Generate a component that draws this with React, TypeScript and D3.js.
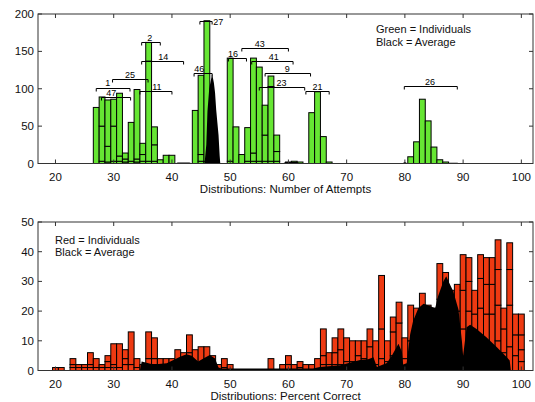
import React from "react";
import * as d3 from "d3";

// shared x ticks (both panels)
const xTicks = [20, 30, 40, 50, 60, 70, 80, 90, 100];
const attemptTicks = [0, 50, 100, 150, 200];
const percentTicks = [0, 10, 20, 30, 40, 50];

// top panel: number of attempts, stacked individuals per bin
const attemptBins = [27, 28, 29, 30, 31, 32, 33, 34, 35, 36, 37, 38, 39, 40, 44, 45, 46, 50, 51, 52, 53, 54, 55, 56, 57, 58, 60, 61, 62, 64, 65, 66, 67, 81, 82, 83, 84, 85, 86, 87];
const attemptStacks = [
  [75], [3, 47, 39], [2, 21, 62], [3, 47, 36], [3, 7, 84], [2, 4, 8], [3, 52], [2, 4, 93], [3, 9, 15], [3, 134, 25],
  [3, 22, 24], [5], [11], [11], [71], [3, 9, 106], [3, 188], [3, 138], [49], [12], [3, 45], [3, 11, 127], [3, 126],
  [3, 35, 40], [3, 100, 14], [3, 13, 22], [2], [3], [2], [68], [96], [36], [2], [9], [29], [86], [57], [22], [5], [2],
];
// black average curve (top)
const attemptAvgX = [40.5, 41, 43, 43.5, 45.6, 45.9, 46.1, 46.4, 46.7, 46.9, 47.2, 47.4, 47.6, 47.8, 48.0, 48.2, 48.3, 59, 59.5, 61.5, 62, 79.5, 80, 80.5, 87, 87.5, 89, 89.5];
const attemptAvgY = [0, 1.5, 1.5, 0, 0, 25, 70, 100, 112, 120, 108, 95, 72, 55, 38, 10, 0, 0, 2, 2, 0, 0, 2, 0, 0, 1, 1, 0];

// brackets over the top panel
const bracketLabels = ["2", "14", "25", "1", "11", "47", "27", "46", "16", "43", "41", "9", "23", "21", "26"];
const bracketFrom = [34.8, 34.8, 29.8, 27, 34.5, 27.9, 44.8, 43.8, 49.7, 52, 53.7, 56, 55, 63, 79.9];
const bracketTo = [38, 42, 35.9, 32.8, 40, 32.9, 46.9, 46.9, 52.8, 60, 60.8, 63.8, 62.8, 67, 89];
const bracketLevel = [162, 137, 113, 101.4, 97, 88.6, 191, 120.7, 141.5, 154, 137, 120.7, 102, 97.4, 103.7];
const bracketTextX = [36.2, 38.5, 32.8, 29.0, 37.4, 29.6, 47.1, 44.7, 50.5, 55.1, 57.5, 59.8, 58.8, 65, 84.3];

// bottom panel: percent correct
const percentBins = [20, 21, 23, 24, 25, 26, 27, 28, 29, 30, 31, 32, 33, 34, 35, 36, 37, 38, 39, 40, 41, 42, 43, 44, 45, 46, 47, 48, 49, 50,
  57, 59, 60, 61, 62, 63, 64, 65, 66, 67, 68, 69, 70, 71, 72, 73, 74, 75, 76, 77, 78, 79, 80, 81, 82, 83, 84, 85, 86, 87, 88, 89,
  90, 91, 92, 93, 94, 95, 96, 97, 98, 99, 100];
const percentStacks = [
  [1], [1], [1, 1, 2], [1, 1], [1, 1], [1, 1, 4], [1, 3], [1, 1], [1, 2, 2], [1, 1, 7], [1, 8], [2, 2, 3], [2, 11], [1, 3], [2],
  [2, 2, 9], [2, 2, 7], [4], [4], [4], [2, 5], [2, 2, 2], [6, 6], [2, 5], [2, 6], [3, 5], [2, 3], [2], [1, 3], [2],
  [4], [2], [2, 3], [2], [1, 2], [2], [2], [4], [2, 3, 9], [2, 4], [2, 4, 5], [2, 5, 7], [3, 8], [3, 7], [2, 3, 5], [4, 6],
  [3, 5, 6], [2, 8], [4, 10, 18], [3, 7], [5, 8, 5], [6, 10, 7], [4, 7], [3, 7, 12], [6, 8, 7], [8, 10, 8], [10, 12], [10, 11],
  [10, 14, 12], [12, 12, 9], [12, 15], [8, 12, 9], [4, 10, 13, 12], [8, 12, 10, 8], [10, 9, 8], [9, 12, 10, 8], [8, 11, 10, 9],
  [7, 12, 10, 9], [10, 12, 12, 10], [6, 8, 7], [8, 14, 12, 9], [5, 7, 7], [3, 4, 5, 7],
];
const percentAvgX = [34.5, 34.8, 36.8, 39.1, 41.4, 42.5, 43.4, 44.5, 45.4, 46.5, 47.4, 48, 48.5, 55, 64.2, 65.4, 68.9, 72.3, 73.7, 74.6,
  75.2, 76.9, 77.7, 78.9, 79.5, 79.7, 80.3, 80.9, 81.4, 82.3, 83.2, 84.3, 85.2, 85.7, 86.6, 87.1, 87.5, 88.3, 89.2, 89.8, 90,
  90.6, 91.2, 92.3, 94, 95.8, 97.5, 98, 98.2];
const percentAvgY = [0, 3, 2, 2.4, 4.6, 5.5, 5, 3, 4, 5.2, 4, 1, 0.7, 0.7, 0.7, 1.2, 1.8, 3.5, 3.8, 4.5,
  1.2, 2.5, 4.8, 9, 6.2, 2, 2.4, 12.1, 16.6, 21, 22.5, 21.7, 21, 25, 30, 31.7, 30, 26.7, 20.5, 9.8, 5,
  14.6, 15.4, 14, 11.2, 7.8, 4.5, 3.4, 0];

const FONT = "Liberation Sans, Arial, Helvetica, sans-serif";
const LEFT = 38;
const RIGHT = 533;

const x = d3.scaleLinear().domain([17, 102]).range([LEFT, RIGHT]);
const binW = x(1) - x(0);

function Panel({ top, bottom, yMax, yTicks, bins, stacks, fill, avgX, avgY, title }) {
  const y = d3.scaleLinear().domain([0, yMax]).range([bottom, top]);
  const area = d3.area<number>()
    .x((d, i) => x(avgX[i]))
    .y0(y(0))
    .y1(d => y(d));
  const bars = [];
  bins.forEach((b, i) => {
    let acc = 0;
    stacks[i].forEach((h, j) => {
      bars.push(
        <rect key={`${b}-${j}`} x={x(b - 0.5)} y={y(acc + h)} width={binW} height={y(acc) - y(acc + h)}
          fill={fill} stroke="#000" strokeWidth={1} />
      );
      acc += h;
    });
  });
  return (
    <g>
      {bars}
      <path d={area(avgY)} fill="#000" />
      <rect x={LEFT} y={top} width={RIGHT - LEFT} height={bottom - top} fill="none" stroke="#333" strokeWidth={1} />
      {xTicks.map(t => (
        <g key={t}>
          <line x1={x(t)} x2={x(t)} y1={top} y2={top + 4} stroke="#333" />
          <line x1={x(t)} x2={x(t)} y1={bottom} y2={bottom - 4} stroke="#333" />
          <text x={x(t)} y={bottom + 17} textAnchor="middle" fontSize={11.5} fontFamily={FONT} fill="#111">{t}</text>
        </g>
      ))}
      {yTicks.map(t => (
        <g key={t}>
          <line x1={LEFT} x2={LEFT + 4} y1={y(t)} y2={y(t)} stroke="#333" />
          <line x1={RIGHT} x2={RIGHT - 4} y1={y(t)} y2={y(t)} stroke="#333" />
          <text x={34} y={y(t) + 4} textAnchor="end" fontSize={11.5} fontFamily={FONT} fill="#111">{t}</text>
        </g>
      ))}
      <text x={x(59.5)} y={bottom + 29} textAnchor="middle" fontSize={11.5} fontFamily={FONT} fill="#111">{title}</text>
    </g>
  );
}

export default function App() {
  const yTop = d3.scaleLinear().domain([0, 200]).range([163.5, 14]);
  return (
    <svg width={535} height={402} style={{ position: "absolute", left: 0, top: 0, background: "#fff" }}>
      <Panel top={14} bottom={163.5} yMax={200} yTicks={attemptTicks} bins={attemptBins} stacks={attemptStacks}
        fill="#66E633" avgX={attemptAvgX} avgY={attemptAvgY} title="Distributions: Number of Attempts" />
      {bracketLabels.map((lab, i) => {
        const yl = Math.round(yTop(bracketLevel[i])) + 0.5;
        const side = lab === "27";
        const lift = lab === "1" ? 3 : 1.5;
        return (
          <g key={lab}>
            <path d={`M${x(bracketFrom[i])},${yl + 3}V${yl}H${x(bracketTo[i])}V${yl + 3}`} fill="none" stroke="#000" />
            <text x={x(bracketTextX[i])} y={side ? yl + 3 : yl - lift} textAnchor={side ? "start" : "middle"}
              fontSize={9} fontFamily={FONT} fill="#000">{lab}</text>
          </g>
        );
      })}
      <text x={376} y={33} fontSize={11} fontFamily={FONT} fill="#111">Green = Individuals</text>
      <text x={376} y={46} fontSize={11} fontFamily={FONT} fill="#111">Black = Average</text>

      <Panel top={222} bottom={370.5} yMax={50} yTicks={percentTicks} bins={percentBins} stacks={percentStacks}
        fill="#EE3A12" avgX={percentAvgX} avgY={percentAvgY} title="Distributions: Percent Correct" />
      <text x={55} y={244} fontSize={11} fontFamily={FONT} fill="#111">Red = Individuals</text>
      <text x={55} y={256} fontSize={11} fontFamily={FONT} fill="#111">Black = Average</text>
    </svg>
  );
}
